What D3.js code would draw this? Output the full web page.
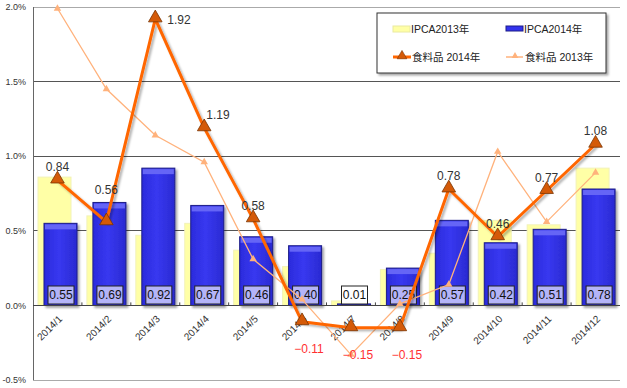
<!DOCTYPE html>
<html>
<head>
<meta charset="utf-8">
<script src="https://cdn.jsdelivr.net/npm/d3@7"></script>
<style>
  body { margin: 0; background: #fff; }
  svg { display: block; font-family: "Liberation Sans", "Noto Sans CJK JP", sans-serif; }
</style>
</head>
<body>
<svg id="chart"></svg>
<script>
// data
const months = ['2014/1', '2014/2', '2014/3', '2014/4', '2014/5', '2014/6',
                '2014/7', '2014/8', '2014/9', '2014/10', '2014/11', '2014/12'];
const ipca2013 = [0.86, 0.60, 0.47, 0.55, 0.37, 0.26, 0.03, 0.24, 0.35, 0.57, 0.54, 0.92];
const ipca2014 = [0.55, 0.69, 0.92, 0.67, 0.46, 0.40, 0.01, 0.25, 0.57, 0.42, 0.51, 0.78];
const food2014 = [0.84, 0.56, 1.92, 1.19, 0.58, -0.11, -0.15, -0.15, 0.78, 0.46, 0.77, 1.08];
const food2013 = [1.99, 1.45, 1.14, 0.96, 0.31, 0.04, -0.33, 0.01, 0.14, 1.03, 0.56, 0.89];
const yTicks = [-0.5, 0, 0.5, 1.0, 1.5, 2.0];
const legendNames = ['IPCA2013年', 'IPCA2014年', '食料品 2014年', '食料品 2013年'];

const w = 627, h = 388;
const padLeft = 33, padRight = 620, padTop = 7, padBottom = 380;

const svg = d3.select('#chart').attr('width', w).attr('height', h);

const x = d3.scaleBand().domain(months).range([padLeft, padRight]);
const y = d3.scaleLinear().domain([-0.5, 2.0]).range([padBottom, padTop]);
const cx = i => x(months[i]) + x.bandwidth() / 2;

// filters / gradients
const defs = svg.append('defs');
const sh = defs.append('filter').attr('id', 'shadow').attr('x', '-20%').attr('y', '-20%').attr('width', '150%').attr('height', '150%');
sh.append('feDropShadow').attr('dx', 2).attr('dy', 2).attr('stdDeviation', 1)
  .attr('flood-color', '#000').attr('flood-opacity', 0.35);
const lsh = defs.append('filter').attr('id', 'lshadow').attr('x', '-10%').attr('y', '-10%').attr('width', '130%').attr('height', '130%');
lsh.append('feDropShadow').attr('dx', 2).attr('dy', 2).attr('stdDeviation', 1)
  .attr('flood-color', '#000').attr('flood-opacity', 0.3);
const bg = defs.append('linearGradient').attr('id', 'blueGrad').attr('x1', 0).attr('x2', 1).attr('y1', 0).attr('y2', 0);
bg.append('stop').attr('offset', '0%').attr('stop-color', '#2b2bdc');
bg.append('stop').attr('offset', '45%').attr('stop-color', '#3838f0');
bg.append('stop').attr('offset', '100%').attr('stop-color', '#2a2ad2');

// grid lines
svg.append('g')
  .selectAll('line')
  .data(yTicks)
  .enter()
  .append('line')
  .attr('x1', padLeft).attr('x2', padRight)
  .attr('y1', d => y(d)).attr('y2', d => y(d))
  .attr('stroke', d => (d === 2.0 || d === -0.5) ? '#aaa' : '#555')
  .attr('stroke-width', 1)
  .attr('shape-rendering', 'crispEdges');

// y axis
svg.append('line')
  .attr('x1', padLeft).attr('x2', padLeft).attr('y1', padTop).attr('y2', padBottom)
  .attr('stroke', '#666').attr('shape-rendering', 'crispEdges');

svg.append('g')
  .selectAll('text')
  .data(yTicks)
  .enter()
  .append('text')
  .attr('x', 26)
  .attr('y', d => y(d))
  .attr('dy', '0.35em')
  .attr('text-anchor', 'end')
  .attr('font-size', 9)
  .attr('fill', '#333')
  .text(d => d3.format('.1f')(d).replace('−', '-') + '%');

// 2013 bars
svg.append('g')
  .selectAll('rect')
  .data(ipca2013)
  .enter()
  .append('rect')
  .attr('x', (d, i) => x(months[i]) + 5)
  .attr('width', 33)
  .attr('y', d => y(d))
  .attr('height', d => y(0) - y(d))
  .attr('fill', '#ffffa6')
  .attr('stroke', '#f2f2b8')
  .attr('stroke-width', 1);

// 2014 bars
const blue = svg.append('g')
  .selectAll('g')
  .data(ipca2014)
  .enter()
  .append('g');

blue.append('rect')
  .attr('x', (d, i) => x(months[i]) + 11)
  .attr('width', 33)
  .attr('y', d => y(d))
  .attr('height', d => y(0) - y(d))
  .attr('fill', 'url(#blueGrad)')
  .attr('stroke', '#1d1d88')
  .attr('stroke-width', 1)
  .attr('filter', 'url(#shadow)');

blue.append('rect')
  .attr('x', (d, i) => x(months[i]) + 12)
  .attr('width', 31)
  .attr('y', d => y(d) + 1)
  .attr('height', d => Math.min(5, Math.max(0, y(0) - y(d) - 1)))
  .attr('fill', '#6565f6');

// x axis
svg.append('line')
  .attr('x1', padLeft).attr('x2', padRight).attr('y1', y(0)).attr('y2', y(0))
  .attr('stroke', '#444').attr('shape-rendering', 'crispEdges');

svg.append('g')
  .selectAll('line')
  .data(months.slice(1))
  .enter()
  .append('line')
  .attr('x1', d => x(d)).attr('x2', d => x(d))
  .attr('y1', y(0)).attr('y2', y(0) - 3)
  .attr('stroke', '#444');

svg.append('g')
  .selectAll('text')
  .data(months)
  .enter()
  .append('text')
  .attr('transform', (d, i) => 'translate(' + (cx(i) + 3) + ',' + 317 + ') rotate(-45)')
  .attr('text-anchor', 'end')
  .attr('dy', '0.35em')
  .attr('font-size', 10)
  .attr('fill', '#333')
  .text(d => d);

// value boxes on 2014 bars
const boxes = svg.append('g')
  .selectAll('g')
  .data(ipca2014)
  .enter()
  .append('g')
  .attr('transform', (d, i) => 'translate(' + (x(months[i]) + 28) + ',' + 295 + ')');

boxes.append('rect')
  .attr('x', -13).attr('y', -9)
  .attr('width', 26).attr('height', 18)
  .attr('fill', d => (y(0) - y(d) < 20) ? '#fff' : '#b4b4f8')
  .attr('stroke', '#222')
  .attr('stroke-width', 1);

boxes.append('text')
  .attr('text-anchor', 'middle')
  .attr('dy', '0.36em')
  .attr('font-size', 12)
  .attr('fill', '#111')
  .text(d => d.toFixed(2));

// food 2013 line
const line = d3.line().x((d, i) => cx(i)).y(d => y(d));

svg.append('path')
  .datum(food2013)
  .attr('d', line)
  .attr('fill', 'none')
  .attr('stroke', '#ffb27c')
  .attr('stroke-width', 1.3);

svg.append('g')
  .selectAll('path')
  .data(food2013)
  .enter()
  .append('path')
  .attr('d', d3.symbol(d3.symbolTriangle).size(24))
  .attr('transform', (d, i) => 'translate(' + cx(i) + ',' + y(d) + ')')
  .attr('fill', '#ffb27c');

// food 2014 line
svg.append('path')
  .datum(food2014)
  .attr('d', line)
  .attr('fill', 'none')
  .attr('stroke', '#ff6600')
  .attr('stroke-width', 3)
  .attr('stroke-linejoin', 'round')
  .attr('filter', 'url(#lshadow)');

svg.append('g')
  .selectAll('path')
  .data(food2014)
  .enter()
  .append('path')
  .attr('d', d3.symbol(d3.symbolTriangle).size(80))
  .attr('transform', (d, i) => 'translate(' + cx(i) + ',' + (y(d) - 1) + ')')
  .attr('fill', '#d45a08')
  .attr('stroke', '#7a3300')
  .attr('stroke-width', 0.8);

// food 2014 labels
const maxI = food2014.indexOf(d3.max(food2014));
svg.append('g')
  .selectAll('text')
  .data(food2014)
  .enter()
  .append('text')
  .attr('x', (d, i) => {
    if (i === maxI) return cx(i) + 12;
    if (i === maxI + 1) return cx(i) + 2;
    if (d < 0) return cx(i) + 7;
    return cx(i);
  })
  .attr('y', (d, i) => {
    if (i === maxI) return y(d) + 1;
    if (d < 0) return y(d) + 27;
    return Math.min(y(d), y(ipca2014[i])) - 13;
  })
  .attr('dy', '0.35em')
  .attr('text-anchor', (d, i) => (i === maxI || i === maxI + 1) ? 'start' : 'middle')
  .attr('font-size', 12)
  .attr('fill', d => d < 0 ? '#ff3030' : '#333')
  .text(d => d < 0 ? '\u2212' + Math.abs(d).toFixed(2) : d.toFixed(2));

// legend
const lg = svg.append('g');
lg.append('rect')
  .attr('x', 377).attr('y', 13).attr('width', 229).attr('height', 60)
  .attr('fill', '#fff').attr('stroke', '#333').attr('stroke-width', 1)
  .attr('filter', 'url(#shadow)');

const lgPos = [[393, 29], [506, 29], [393, 57], [506, 57]];
lg.append('rect').attr('x', lgPos[0][0]).attr('y', lgPos[0][1] - 3).attr('width', 17).attr('height', 6)
  .attr('fill', '#ffffa6').attr('stroke', '#eaeaa0');
lg.append('rect').attr('x', lgPos[1][0]).attr('y', lgPos[1][1] - 3).attr('width', 17).attr('height', 5)
  .attr('fill', '#3333ee').attr('stroke', '#1d1d88');
lg.append('line').attr('x1', lgPos[2][0]).attr('x2', lgPos[2][0] + 18)
  .attr('y1', lgPos[2][1]).attr('y2', lgPos[2][1])
  .attr('stroke', '#ff6600').attr('stroke-width', 3);
lg.append('path').attr('d', d3.symbol(d3.symbolTriangle).size(40))
  .attr('transform', 'translate(' + (lgPos[2][0] + 9) + ',' + (lgPos[2][1] - 1) + ')')
  .attr('fill', '#d45a08').attr('stroke', '#7a3300').attr('stroke-width', 0.6);
lg.append('line').attr('x1', lgPos[3][0]).attr('x2', lgPos[3][0] + 17)
  .attr('y1', lgPos[3][1]).attr('y2', lgPos[3][1])
  .attr('stroke', '#ffb27c').attr('stroke-width', 1.5);
lg.append('path').attr('d', d3.symbol(d3.symbolTriangle).size(20))
  .attr('transform', 'translate(' + (lgPos[3][0] + 9) + ',' + (lgPos[3][1] - 1) + ')')
  .attr('fill', '#ffb27c');

lg.selectAll('text')
  .data(legendNames)
  .enter()
  .append('text')
  .attr('x', (d, i) => lgPos[i][0] + (i < 2 ? 18 : 19))
  .attr('y', (d, i) => lgPos[i][1])
  .attr('dy', '0.35em')
  .attr('font-size', 10.5)
  .attr('fill', '#222')
  .text(d => d);
</script>
</body>
</html>
